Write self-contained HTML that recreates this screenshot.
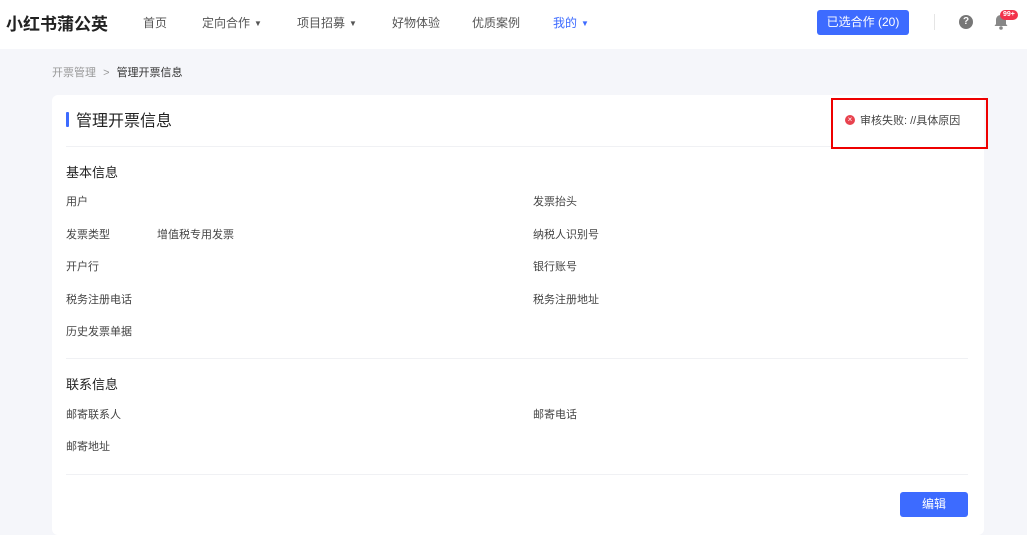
<!DOCTYPE html>
<html><head><meta charset="utf-8"><style>
*{margin:0;padding:0;box-sizing:border-box}
body{width:1027px;height:528px;overflow:hidden;background:#f5f6fa;font-family:"Liberation Sans","Noto Sans CJK SC",sans-serif;position:relative;color:#333}
.a{position:absolute;white-space:nowrap}
.hd{position:absolute;left:0;top:0;width:1027px;height:49px;background:#fff}
.nav{font-size:12px;color:#555;top:14px}
.tri{font-size:8px;margin-left:4px;vertical-align:1px}
.card{position:absolute;left:52px;top:95px;width:932px;height:440px;background:#fff;border-radius:6px}
.lbl{font-size:11px;color:#444}
.ln{position:absolute;height:1px;background:#f0f1f4}
</style></head><body>
<div class="hd"></div>
<div class="a" style="left:6px;top:10px;font-size:17px;font-weight:bold;color:#222">小红书蒲公英</div>
<div class="a nav" style="left:143px">首页</div>
<div class="a nav" style="left:202px">定向合作<span class="tri">▼</span></div>
<div class="a nav" style="left:297px">项目招募<span class="tri">▼</span></div>
<div class="a nav" style="left:392px">好物体验</div>
<div class="a nav" style="left:472px">优质案例</div>
<div class="a nav" style="left:553px;color:#3d6bff">我的<span class="tri">▼</span></div>
<div class="a" style="left:817px;top:10px;width:92px;height:25px;background:#3d6bff;border-radius:3px;color:#fff;font-size:12px;text-align:center;line-height:24px">已选合作 (20)</div>
<div class="a" style="left:934px;top:14px;width:1px;height:16px;background:#e5e5e5"></div>
<div class="a" style="left:959px;top:15px;width:14px;height:14px;border-radius:50%;background:#777;color:#fff;font-size:10px;font-weight:bold;text-align:center;line-height:14px">?</div>
<svg class="a" style="left:993px;top:13px" width="16" height="18" viewBox="0 0 16 18"><path d="M8 2c-3 0-5 2-5 5v4l-1.5 2h13L13 11V7c0-3-2-5-5-5z" fill="#888"/><circle cx="8" cy="15" r="1.8" fill="#888"/></svg>
<div class="a" style="left:1000px;top:10px;height:10px;padding:0 3px;background:#f2334b;border-radius:5px;color:#fff;font-size:7px;line-height:10px;font-weight:bold">99+</div>

<div class="a" style="left:52px;top:64px;font-size:11px;color:#999">开票管理 <span style="margin:0 4px">&gt;</span> <span style="color:#333">管理开票信息</span></div>

<div class="card"></div>
<div class="a" style="left:66px;top:112px;width:3px;height:15px;background:#3d6bff;border-radius:1px"></div>
<div class="a" style="left:76px;top:107px;font-size:16px;color:#222">管理开票信息</div>
<div class="a" style="left:831px;top:98px;width:157px;height:51px;border:2px solid #ee0000"></div>
<div class="a" style="left:845px;top:115px;width:10px;height:10px;border-radius:50%;background:#e8424e;color:#fff;font-size:8px;line-height:10px;text-align:center">×</div>
<div class="a" style="left:860px;top:112px;font-size:11px;color:#444">审核失败: //具体原因</div>
<div class="ln" style="left:66px;top:146px;width:765px"></div>

<div class="a" style="left:66px;top:162px;font-size:13px;color:#222">基本信息</div>
<div class="a lbl" style="left:66px;top:193px">用户</div>
<div class="a lbl" style="left:533px;top:193px">发票抬头</div>
<div class="a lbl" style="left:66px;top:226px">发票类型</div>
<div class="a lbl" style="left:157px;top:226px">增值税专用发票</div>
<div class="a lbl" style="left:533px;top:226px">纳税人识别号</div>
<div class="a lbl" style="left:66px;top:258px">开户行</div>
<div class="a lbl" style="left:533px;top:258px">银行账号</div>
<div class="a lbl" style="left:66px;top:291px">税务注册电话</div>
<div class="a lbl" style="left:533px;top:291px">税务注册地址</div>
<div class="a lbl" style="left:66px;top:323px">历史发票单据</div>
<div class="ln" style="left:66px;top:358px;width:902px"></div>

<div class="a" style="left:66px;top:374px;font-size:13px;color:#222">联系信息</div>
<div class="a lbl" style="left:66px;top:406px">邮寄联系人</div>
<div class="a lbl" style="left:533px;top:406px">邮寄电话</div>
<div class="a lbl" style="left:66px;top:438px">邮寄地址</div>
<div class="ln" style="left:66px;top:474px;width:902px"></div>

<div class="a" style="left:900px;top:492px;width:68px;height:25px;background:#3d6bff;border-radius:3px;color:#fff;font-size:12px;text-align:center;line-height:25px">编辑</div>
</body></html>
